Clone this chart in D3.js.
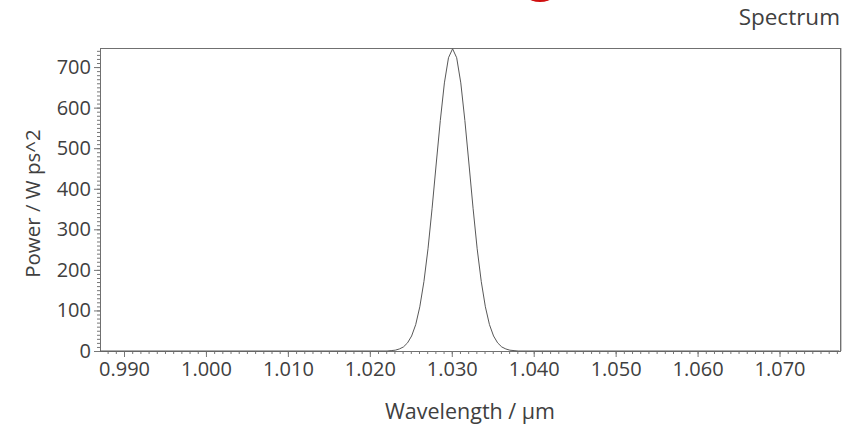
<!DOCTYPE html>
<html><head><meta charset="utf-8">
<script src="https://cdn.jsdelivr.net/npm/d3@7"></script>
<style>body{margin:0;background:#fff}svg{display:block}text{font-family:"Open Sans","Noto Sans",sans-serif;fill:#404040}</style>
</head><body><svg id="c" width="864" height="426"></svg>
<script>
const wavelength = [0.9871,1.0221,1.0226,1.0231,1.0236,1.0241,1.0246,1.0251,1.0256,1.0261,1.0266,1.0271,1.0276,1.0281,1.0286,1.0291,1.0296,1.0301,1.0306,1.0311,1.0316,1.0321,1.0326,1.0331,1.0336,1.0341,1.0346,1.0351,1.0356,1.0361,1.0366,1.0371,1.0376,1.0381,1.0773];
const power      = [0,0,1,2,5,10,20,37,65,109,171,252,352,461,568,661,723,745,723,661,568,461,352,252,171,109,65,37,20,10,5,2,1,0,0];
const xTicks = [0.99,1.00,1.01,1.02,1.03,1.04,1.05,1.06,1.07];
const yTicks = [0,100,200,300,400,500,600,700];
const xDomain = [0.98707,1.07738];
const yDomain = [0,747];
const title = "Spectrum", xTitle = "Wavelength / µm", yTitle = "Power / W ps^2";

const svg = d3.select("#c");
const L=100,R=840,T=48,B=351;
const x = d3.scaleLinear().domain(xDomain).range([L,R]);
const y = d3.scaleLinear().domain(yDomain).range([B,T]);
const axisCol="#777";
const FONT='"Open Sans","Noto Sans",sans-serif';

// red decoration at top
svg.append("ellipse").attr("cx",540).attr("cy",-18).attr("rx",22).attr("ry",20).attr("fill","#d01010");

// frame
svg.append("rect").attr("x",L).attr("y",T).attr("width",R-L).attr("height",B-T)
  .attr("fill","none").attr("stroke","#707070").attr("stroke-width",1).attr("shape-rendering","crispEdges");
svg.append("line").attr("x1",R+1.5).attr("x2",R+1.5).attr("y1",T).attr("y2",B).attr("stroke","#c8c8c8");

// minor ticks
const xMinor = d3.range(Math.ceil(xDomain[0]*1000), Math.floor(xDomain[1]*1000)+1).map(v=>v/1000);
const yMinor = d3.range(0, 741, 10);
const gx = svg.append("g").attr("transform",`translate(0,${B})`);
gx.call(d3.axisBottom(x).tickValues(xMinor).tickSize(3).tickFormat(""));
gx.call(g=>g.select(".domain").remove());
const gx2 = svg.append("g").attr("transform",`translate(0,${B})`)
  .call(d3.axisBottom(x).tickValues(xTicks).tickSize(6).tickPadding(5).tickFormat(d3.format(".3f")));
gx2.select(".domain").remove();
const gy = svg.append("g").attr("transform",`translate(${L},0)`);
gy.call(d3.axisLeft(y).tickValues(yMinor).tickSize(3).tickFormat(""));
gy.call(g=>g.select(".domain").remove());
const gy2 = svg.append("g").attr("transform",`translate(${L},0)`)
  .call(d3.axisLeft(y).tickValues(yTicks).tickSize(6).tickPadding(3).tickFormat(d3.format("d")));
gy2.select(".domain").remove();
svg.selectAll(".tick line").attr("stroke",axisCol);
svg.selectAll(".tick text").attr("font-size",20).attr("fill","#404040").style("font-family",FONT);

// line
svg.append("path").datum(wavelength.map((w,i)=>[w,power[i]]))
  .attr("fill","none").attr("stroke","#585858").attr("stroke-width",1)
  .attr("d", d3.line().x(d=>x(d[0])).y(d=>y(d[1])));

// texts
svg.append("text").attr("x",840).attr("y",25).attr("text-anchor","end").attr("font-size",22.5).text(title);
svg.append("text").attr("x",(L+R)/2).attr("y",419).attr("text-anchor","middle").attr("font-size",21.5).text(xTitle);
svg.append("text").attr("transform",`translate(40,${(T+B)/2+4}) rotate(-90)`).attr("text-anchor","middle").attr("font-size",20.5).text(yTitle);
</script></body></html>
